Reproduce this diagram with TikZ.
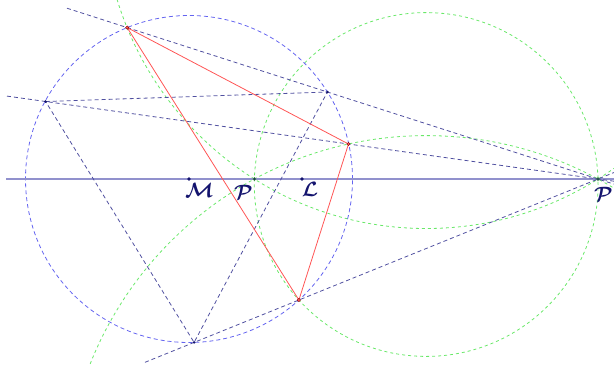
\documentclass[tikz,border=0pt]{standalone}
\usepackage{amsmath}
\definecolor{navyl}{RGB}{80,80,160}
\definecolor{circblue}{RGB}{100,100,240}
\definecolor{geogreen}{RGB}{105,232,105}
\definecolor{geored}{RGB}{255,85,85}
\definecolor{axisblue}{RGB}{145,145,205}
\definecolor{labnavy}{RGB}{20,20,110}
\begin{document}
\begin{tikzpicture}[x=1pt,y=-1pt,
 bdash/.style={navyl, dash pattern=on 4pt off 3pt, line width=0.8pt},
 cdash/.style={circblue, dash pattern=on 4pt off 3pt, line width=0.8pt},
 gdash/.style={geogreen, dash pattern=on 3pt off 3pt, line width=0.8pt},
 tri/.style={geored, line width=0.8pt},
 axisline/.style={axisblue, line width=1.6pt},
 dot/.style={circle, fill=labnavy, inner sep=0pt, minimum size=3.6pt},
 sdot/.style={circle, fill=labnavy, inner sep=0pt, minimum size=2.8pt},
 gdot/.style={circle, draw=geogreen!60!black, fill=labnavy, line width=0.5pt, inner sep=0pt, minimum size=3pt},
 rdot/.style={circle, fill=geored, draw=red!50!black, line width=0.4pt, inner sep=0pt, minimum size=3.4pt},
 lab/.style={text=labnavy, font=\huge, inner sep=0pt}
]
\useasboundingbox (0,0) rectangle (614,365);
\clip (0,0) rectangle (614,365);
% points
\coordinate (M) at (189,179);
\coordinate (L) at (302,179);
\coordinate (Pq) at (254.4,179);
\coordinate (P) at (598,179);
\coordinate (A) at (127.2,27.6);
\coordinate (B) at (348.5,144);
\coordinate (C) at (298.9,300);
\coordinate (D) at (45.6,101.5);
\coordinate (E) at (327.4,92);
\coordinate (F) at (194.1,342.4);
% free ends of lines
\coordinate (a1) at (67,8.2);
\coordinate (a2) at (614,184.1);
\coordinate (d1) at (7,96.1);
\coordinate (d2) at (614,181.2);
\coordinate (f1) at (145,362.3);
\coordinate (f2) at (614,172.5);
\coordinate (x1) at (6,179);
\coordinate (x2) at (614,179);
% green circles
\draw[gdash] (426.2,-94.5) circle[radius=323pt];
\draw[gdash] (426.2,496.9) circle[radius=361.3pt];
\draw[gdash] (426.2,184.5) circle[radius=171.9pt];
% blue circle
\draw[cdash] (M) circle[radius=163.5pt];
% axis
\draw[axisline] (x1) -- (x2);
% navy lines
\draw[bdash] (a1) -- (A) -- (E) -- (P) -- (a2);
\draw[bdash] (d1) -- (D) -- (B) -- (P) -- (d2);
\draw[bdash] (f1) -- (F) -- (C) -- (P) -- (f2);
\draw[bdash] (D) -- (E) -- (F) -- cycle;
% triangle
\draw[tri] (A) -- (B) -- (C) -- cycle;
% dots
\node[dot] (nM) at (M) {};
\node[dot] (nL) at (L) {};
\node[gdot] (nPq) at (Pq) {};
\node[gdot] (nP) at (P) {};
\node[sdot] (nD) at (D) {};
\node[sdot] (nE) at (E) {};
\node[sdot] (nF) at (F) {};
\node[rdot] (nA) at (A) {};
\node[rdot] (nB) at (B) {};
\node[rdot] (nC) at (C) {};
% labels
\node[lab] (lM) at (199.5,190) {$\boldsymbol{\mathcal{M}}$};
\node[lab] (lPq) at (243.5,192) {$\boldsymbol{\mathcal{P}}$};
\node[lab] (lL) at (310,189.5) {$\boldsymbol{\mathcal{L}}$};
\node[lab] (lP) at (603.5,194) {$\boldsymbol{\mathcal{P}}$};
\end{tikzpicture}
\end{document}
